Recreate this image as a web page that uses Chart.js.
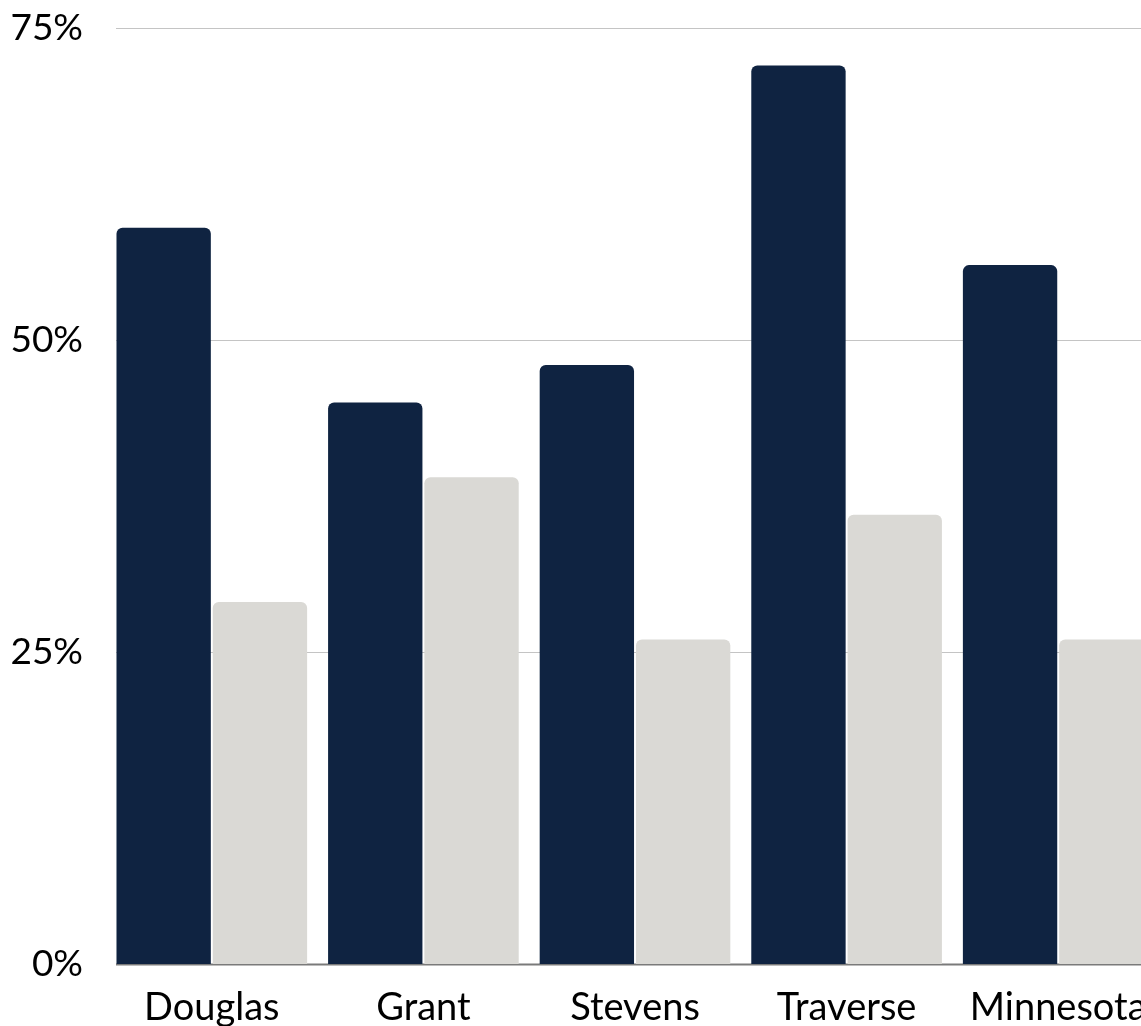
<!DOCTYPE html>
<html>
<head>
<meta charset="utf-8">
<script src="https://cdn.jsdelivr.net/npm/chart.js@4"></script>
<style>
  html, body { margin: 0; padding: 0; background: #fff; overflow: hidden; }
  canvas { display: block; }
</style>
</head>
<body>
<canvas id="chart" width="1174" height="1026"></canvas>
<script>
var categories = ["Douglas", "Grant", "Stevens", "Traverse", "Minnesota"];
var darkValues = [59, 45, 48, 72, 56];
var lightValues = [29, 39, 26, 36, 26];
var yTicks = [0, 25, 50, 75];

// grid lines start where the first bar starts, not at the axis edge
var gridPlugin = {
    id: "gridFromBars",
    beforeDatasetsDraw: function (chart) {
        var ctx = chart.ctx;
        var area = chart.chartArea;
        var y = chart.scales.y;
        ctx.save();
        ctx.strokeStyle = "#c4c4c4";
        ctx.lineWidth = 1;
        yTicks.forEach(function (t) {
            if (t === 0) return;
            var py = Math.round(y.getPixelForValue(t)) + 0.5;
            ctx.beginPath();
            ctx.moveTo(area.left + 10, py);
            ctx.lineTo(area.right, py);
            ctx.stroke();
        });
        var by = Math.round(y.getPixelForValue(0)) + 0.5;
        ctx.strokeStyle = "#7a7a7a";
        ctx.lineWidth = 2;
        ctx.beginPath();
        ctx.moveTo(area.left + 10, by);
        ctx.lineTo(area.right, by);
        ctx.stroke();
        ctx.restore();
    }
};

new Chart(document.getElementById("chart"), {
    type: "bar",
    data: {
        labels: categories,
        datasets: [
            {
                data: darkValues,
                backgroundColor: "#0f2341",
                borderRadius: 6,
                borderSkipped: "bottom",
                categoryPercentage: 0.91,
                barPercentage: 0.98
            },
            {
                data: lightValues,
                backgroundColor: "#dad9d5",
                borderRadius: 6,
                borderSkipped: "bottom",
                categoryPercentage: 0.91,
                barPercentage: 0.98
            }
        ]
    },
    options: {
        responsive: false,
        animation: false,
        layout: { padding: { top: 28, right: 10, left: 0, bottom: 0 } },
        plugins: {
            legend: { display: false },
            tooltip: { enabled: false }
        },
        scales: {
            x: {
                grid: { display: false },
                border: { display: false },
                ticks: {
                    color: "#000",
                    font: { family: "Lato", size: 38 },
                    padding: 13,
                    maxRotation: 0,
                    autoSkip: false
                },
                afterFit: function (scale) { scale.height = 62; }
            },
            y: {
                min: 0,
                max: 75,
                afterBuildTicks: function (scale) {
                    scale.ticks = yTicks.map(function (v) { return { value: v }; });
                },
                grid: { display: false, drawTicks: false },
                border: { display: false },
                ticks: {
                    color: "#000",
                    font: { family: "Lato", size: 37 },
                    padding: 23,
                    callback: function (v) { return v + "%"; }
                },
                afterFit: function (scale) {
                    scale.width = 106;
                    scale.paddingTop = 0;
                    scale.paddingBottom = 0;
                }
            }
        }
    },
    plugins: [gridPlugin]
});
</script>
</body>
</html>
